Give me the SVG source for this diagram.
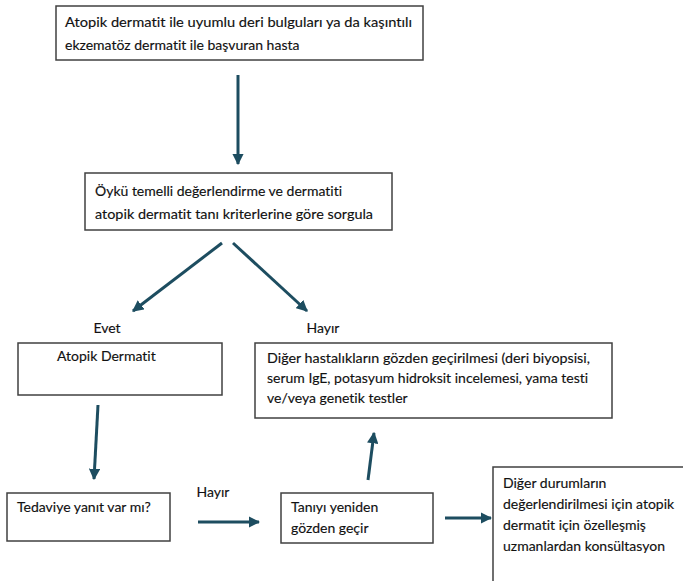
<svg xmlns="http://www.w3.org/2000/svg" width="683" height="581" viewBox="0 0 683 581">
<defs>
<marker id="ah" viewBox="0 0 10 10" refX="9" refY="5" markerWidth="3.8" markerHeight="3.8" orient="auto" markerUnits="strokeWidth">
<path d="M0,0 L10,5 L0,10 z" fill="#1d4d60"/>
</marker>
<style>
.box{fill:#fff;stroke:#404040;stroke-width:1.5}
.t{font-family:Lato,"Open Sans","Liberation Sans",sans-serif;font-size:14px;fill:#111;font-variant-ligatures:none;stroke:#111;stroke-width:0.15}
.c{stroke:#1d4d60;stroke-width:3;fill:none;marker-end:url(#ah)}
</style>
</defs>
<rect width="683" height="581" fill="#fff"/>
<g id="connectors">
<line class="c" x1="238" y1="75" x2="238" y2="164"/>
<line class="c" x1="222" y1="243" x2="133" y2="311"/>
<line class="c" x1="233" y1="243" x2="307" y2="311"/>
<line class="c" x1="98" y1="405" x2="94" y2="479"/>
<line class="c" x1="198" y1="522" x2="259" y2="522"/>
<line class="c" x1="368" y1="480" x2="374" y2="433"/>
<line class="c" x1="445" y1="518" x2="491" y2="518"/>
</g>
<g id="n1">
<rect class="box" x="56" y="6" width="367" height="54"/>
<text class="t" x="65" y="27" textLength="347" lengthAdjust="spacingAndGlyphs">Atopik dermatit ile uyumlu deri bulguları ya da kaşıntılı</text>
<text class="t" x="65" y="50">ekzematöz dermatit ile başvuran hasta</text>
</g>
<g id="n2">
<rect class="box" x="85" y="173" width="307" height="57"/>
<text class="t" x="95" y="196">Öykü temelli değerlendirme ve dermatiti</text>
<text class="t" x="95" y="219" textLength="278" lengthAdjust="spacingAndGlyphs">atopik dermatit tanı kriterlerine göre sorgula</text>
</g>
<g id="l-evet"><text class="t" x="107" y="333" text-anchor="middle">Evet</text></g>
<g id="l-hayir1"><text class="t" x="323" y="333" text-anchor="middle">Hayır</text></g>
<g id="n3">
<rect class="box" x="18" y="343" width="204" height="52"/>
<text class="t" x="57" y="361">Atopik Dermatit</text>
</g>
<g id="n4">
<rect class="box" x="255" y="343" width="357" height="75"/>
<text class="t" x="267" y="363" textLength="323" lengthAdjust="spacingAndGlyphs">Diğer hastalıkların gözden geçirilmesi (deri biyopsisi,</text>
<text class="t" x="267" y="383">serum IgE, potasyum hidroksit incelemesi, yama testi</text>
<text class="t" x="267" y="403">ve/veya genetik testler</text>
</g>
<g id="n5">
<rect class="box" x="7" y="493" width="163" height="48"/>
<text class="t" x="17" y="512">Tedaviye yanıt var mı?</text>
</g>
<g id="l-hayir2"><text class="t" x="213" y="497" text-anchor="middle">Hayır</text></g>
<g id="n6">
<rect class="box" x="281" y="493" width="152" height="50"/>
<text class="t" x="291" y="512">Tanıyı yeniden</text>
<text class="t" x="291" y="533">gözden geçir</text>
</g>
<g id="n7">
<rect class="box" x="493" y="467" width="200" height="130"/>
<text class="t" x="503" y="488">Diğer durumların</text>
<text class="t" x="503" y="509">değerlendirilmesi için atopik</text>
<text class="t" x="503" y="530">dermatit için özelleşmiş</text>
<text class="t" x="503" y="551">uzmanlardan konsültasyon</text>
</g>
</svg>
